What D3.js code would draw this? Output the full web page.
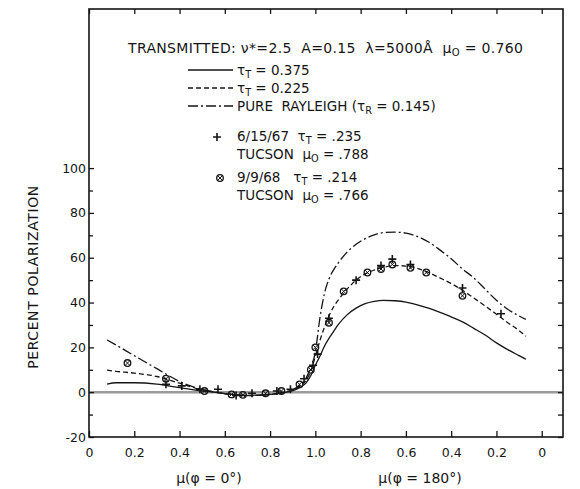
<!DOCTYPE html>
<html>
<head>
<meta charset="utf-8">
<script src="https://cdn.jsdelivr.net/npm/d3@7"></script>
<style>
  html, body { margin: 0; padding: 0; background: #fff; }
  svg { display: block; font-family: "DejaVu Sans", "Liberation Sans", Arial, sans-serif; }
</style>
</head>
<body>
<svg id="chart" width="580" height="489"></svg>
<script>
// ---------- DATA ----------
// x: mu for phi = 0 deg (left half) and phi = 180 deg (right half)
const xTickValues = [0, 0.2, 0.4, 0.6, 0.8, 1.0, 1.2, 1.4, 1.6, 1.8, 2.0];
const xTickLabels = ["0", "0.2", "0.4", "0.6", "0.8", "1.0", "0.8", "0.6", "0.4", "0.2", "0"];
const yTickValues = [-20, 0, 20, 40, 60, 80, 100];
const yTickLabels = ["-20", "0", "20", "40", "60", "80", "100"];

// model curves, phi = 0 side
const muLeft        = [0.08, 0.12, 0.2, 0.3, 0.4, 0.5, 0.55, 0.6, 0.65, 0.7, 0.75, 0.8, 0.85, 0.9, 0.93, 0.96, 0.98];
const rayleighLeft  = [23.3, 21.0, 16.3, 10.5, 4.8, 1.2, 0.2, -0.6, -1.2, -1.5, -1.4, -1.0, -0.2, 1.2, 3.0, 6.5, 11.0];
const tau225Left    = [9.8, 9.3, 8.5, 7.0, 4.0, 1.0, 0.1, -0.6, -1.2, -1.5, -1.4, -1.0, -0.3, 1.0, 2.6, 5.5, 9.5];
const tau375Left    = [3.6, 4.2, 4.2, 3.6, 2.0, 0.5, 0.0, -0.6, -1.1, -1.4, -1.3, -1.0, -0.4, 0.7, 2.0, 4.3, 7.5];

// model curves, phi = 180 side
const muRight       = [1.0, 0.98, 0.96, 0.94, 0.92, 0.9, 0.86, 0.82, 0.78, 0.74, 0.7, 0.65, 0.6, 0.55, 0.5, 0.45, 0.4, 0.35, 0.3, 0.25, 0.2, 0.15, 0.1, 0.07];
const rayleighRight = [18, 33, 44, 50.5, 54.5, 57.5, 62.5, 66, 68.5, 70.2, 71.2, 71.4, 71, 69.5, 67, 63.5, 59.5, 55, 51, 46, 41, 37, 34, 32.5];
const tau225Right   = [16, 23, 29, 34, 38, 41, 46, 50, 52.8, 54.5, 55.7, 56.5, 56.3, 55.3, 53.4, 51, 48.5, 45.5, 42, 38.5, 34.8, 31, 27.5, 25];
const tau375Right   = [12, 16, 20.5, 24, 27, 30, 34.5, 37.5, 39.5, 40.5, 41, 40.8, 40.2, 39, 37.5, 35.6, 33.6, 31.4, 28.5, 25.5, 22, 19, 16.3, 14.7];

// observations 6/15/67 (plus)
const plusMuLeft   = [0.34, 0.41, 0.49, 0.57, 0.65, 0.72, 0.83, 0.89, 0.95, 0.99];
const plusValLeft  = [3.5, 2.8, 1.3, 1.3, -1.5, -0.5, 0.5, 1.3, 6, 12];
const plusMuRight  = [0.99, 0.94, 0.82, 0.71, 0.66, 0.58, 0.35, 0.18];
const plusValRight = [17, 33, 50, 56.5, 59.4, 57, 46.5, 35];

// observations 9/9/68 (crossed circle)
const circMuLeft   = [0.17, 0.34, 0.51, 0.63, 0.68, 0.78, 0.85, 0.93, 0.98];
const circValLeft  = [13, 6, 0.5, -1, -1.2, -0.5, 0.5, 3.5, 10];
const circMuRight  = [1.0, 0.94, 0.875, 0.77, 0.71, 0.66, 0.58, 0.51, 0.35];
const circValRight = [20, 31, 45, 53.4, 55, 57, 55.5, 53.4, 43];

// ---------- CHART ----------
const svg = d3.select("#chart");
const ink = "#151515";
const pLeft = 89, pRight = 563, pTop = 9, pBottom = 437;

const x = d3.scaleLinear().domain([0, 2.094]).range([pLeft, pRight]);
const y = d3.scaleLinear().domain([-20, 171]).range([pBottom, pTop]);

// combined coordinate: phi=0 -> mu ; phi=180 -> 2 - mu
const toT = (mu, side) => side === 0 ? mu : 2 - mu;

function series(muL, vL, muR, vR) {
  const a = muL.map((m, i) => ({ t: toT(m, 0), v: vL[i] }));
  const b = muR.map((m, i) => ({ t: toT(m, 180), v: vR[i] }));
  return a.concat(b).sort((p, q) => p.t - q.t);
}

// zero line (grey)
svg.append("line")
  .attr("x1", pLeft).attr("x2", pRight)
  .attr("y1", y(0)).attr("y2", y(0))
  .attr("stroke", "#9a9a9a").attr("stroke-width", 2.5);

// axes
const gBottom = svg.append("g").attr("transform", `translate(0,${pBottom})`)
  .call(d3.axisBottom(x).tickValues(xTickValues).tickSize(-6).tickPadding(11)
    .tickFormat((d, i) => xTickLabels[i]));
const gTop = svg.append("g").attr("transform", `translate(0,${pTop})`)
  .call(d3.axisTop(x).tickValues(xTickValues).tickSize(-5).tickFormat(""));
const minorY = d3.range(-20, 101, 10);
const gLeft = svg.append("g").attr("transform", `translate(${pLeft},0)`)
  .call(d3.axisLeft(y).tickValues(yTickValues).tickSize(-5).tickPadding(3)
    .tickFormat((d, i) => yTickLabels[i]));
const gLeftMinor = svg.append("g").attr("transform", `translate(${pLeft},0)`)
  .call(d3.axisLeft(y).tickValues(minorY.filter(v => v % 20 !== 0)).tickSize(-4).tickFormat(""));
const gRight = svg.append("g").attr("transform", `translate(${pRight},0)`)
  .call(d3.axisRight(y).tickValues(minorY).tickSize(-5).tickFormat(""));

[gBottom, gTop, gLeft, gLeftMinor, gRight].forEach(g => {
  g.select(".domain").remove();
  g.selectAll("line").attr("stroke", ink).attr("stroke-width", 1.3);
  g.selectAll("text").attr("fill", ink).style("font-size", "12.5px")
    .style("font-family", '"DejaVu Sans", "Liberation Sans", Arial, sans-serif');
});

// frame
svg.append("rect").attr("x", pLeft).attr("y", pTop)
  .attr("width", pRight - pLeft).attr("height", pBottom - pTop)
  .attr("fill", "none").attr("stroke", ink).attr("stroke-width", 1.6);

// curves
const line = d3.line().x(d => x(d.t)).y(d => y(d.v)).curve(d3.curveMonotoneX);
const curves = [
  { data: series(muLeft, tau375Left, muRight, tau375Right), dash: null },
  { data: series(muLeft, tau225Left, muRight, tau225Right), dash: "5,3" },
  { data: series(muLeft, rayleighLeft, muRight, rayleighRight), dash: "10,3,2,3" }
];
curves.forEach(c => {
  svg.append("path").datum(c.data).attr("d", line)
    .attr("fill", "none").attr("stroke", ink).attr("stroke-width", 1.3)
    .attr("stroke-dasharray", c.dash);
});

// markers
function drawPlus(g, cx, cy, s) {
  g.append("path").attr("d", `M${cx - s},${cy}H${cx + s}M${cx},${cy - s}V${cy + s}`)
    .attr("stroke", ink).attr("stroke-width", 1.6).attr("fill", "none");
}
function drawCirc(g, cx, cy, r) {
  g.append("circle").attr("cx", cx).attr("cy", cy).attr("r", r)
    .attr("fill", "none").attr("stroke", ink).attr("stroke-width", 1.3);
  const k = r * 0.7;
  g.append("path").attr("d", `M${cx - k},${cy - k}L${cx + k},${cy + k}M${cx + k},${cy - k}L${cx - k},${cy + k}`)
    .attr("stroke", ink).attr("stroke-width", 1);
}
const gPts = svg.append("g");
series(circMuLeft, circValLeft, circMuRight, circValRight)
  .forEach(d => drawCirc(gPts, x(d.t), y(d.v), 3.3));
series(plusMuLeft, plusValLeft, plusMuRight, plusValRight)
  .forEach(d => drawPlus(gPts, x(d.t), y(d.v), 4));

// text helper with subscripts: parts = [[text, isSub], ...]
function rich(xp, yp, parts, size) {
  const t = svg.append("text").attr("x", xp).attr("y", yp).attr("fill", ink)
    .style("font-size", size + "px").attr("xml:space", "preserve");
  let down = false;
  parts.forEach(([s, isSub]) => {
    const sp = t.append("tspan").text(s);
    if (isSub && !down) { sp.attr("dy", 3).style("font-size", (size * 0.72) + "px"); down = true; }
    else if (!isSub && down) { sp.attr("dy", -3); down = false; }
  });
  return t;
}

// axis titles
svg.append("text").attr("transform", `translate(38,277) rotate(-90)`)
  .attr("text-anchor", "middle").attr("fill", ink)
  .style("font-size", "14px").style("letter-spacing", "0.6px")
  .text("PERCENT POLARIZATION");
svg.append("text").attr("x", 209).attr("y", 483).attr("text-anchor", "middle")
  .attr("fill", ink).style("font-size", "14px").text("μ(φ = 0°)");
svg.append("text").attr("x", 420).attr("y", 483).attr("text-anchor", "middle")
  .attr("fill", ink).style("font-size", "14px").text("μ(φ = 180°)");

// legend
const fs = 13.5;
rich(128, 53, [["TRANSMITTED: ν*=2.5  A=0.15  λ=5000Å  μ", false], ["O", true], [" = 0.760", false]], 14)
  .attr("textLength", 395).attr("lengthAdjust", "spacing");

const legendItems = [
  { y: 70, dash: null, label: [["τ", false], ["T", true], [" = 0.375", false]] },
  { y: 88, dash: "5,3", label: [["τ", false], ["T", true], [" = 0.225", false]] },
  { y: 106, dash: "10,3,2,3", label: [["PURE  RAYLEIGH (τ", false], ["R", true], [" = 0.145)", false]] }
];
legendItems.forEach(it => {
  svg.append("line").attr("x1", 188).attr("x2", 233).attr("y1", it.y).attr("y2", it.y)
    .attr("stroke", ink).attr("stroke-width", 1.3).attr("stroke-dasharray", it.dash);
  rich(237, it.y + 4.5, it.label, fs);
});

drawPlus(svg, 217, 137, 4);
rich(237, 141, [["6/15/67  τ", false], ["T", true], [" = .235", false]], fs);
rich(237, 159, [["TUCSON  μ", false], ["O", true], [" = .788", false]], fs);
drawCirc(svg, 220, 178, 3.3);
rich(237, 182, [["9/9/68   τ", false], ["T", true], [" = .214", false]], fs);
rich(237, 200, [["TUCSON  μ", false], ["O", true], [" = .766", false]], fs);
</script>
</body>
</html>
